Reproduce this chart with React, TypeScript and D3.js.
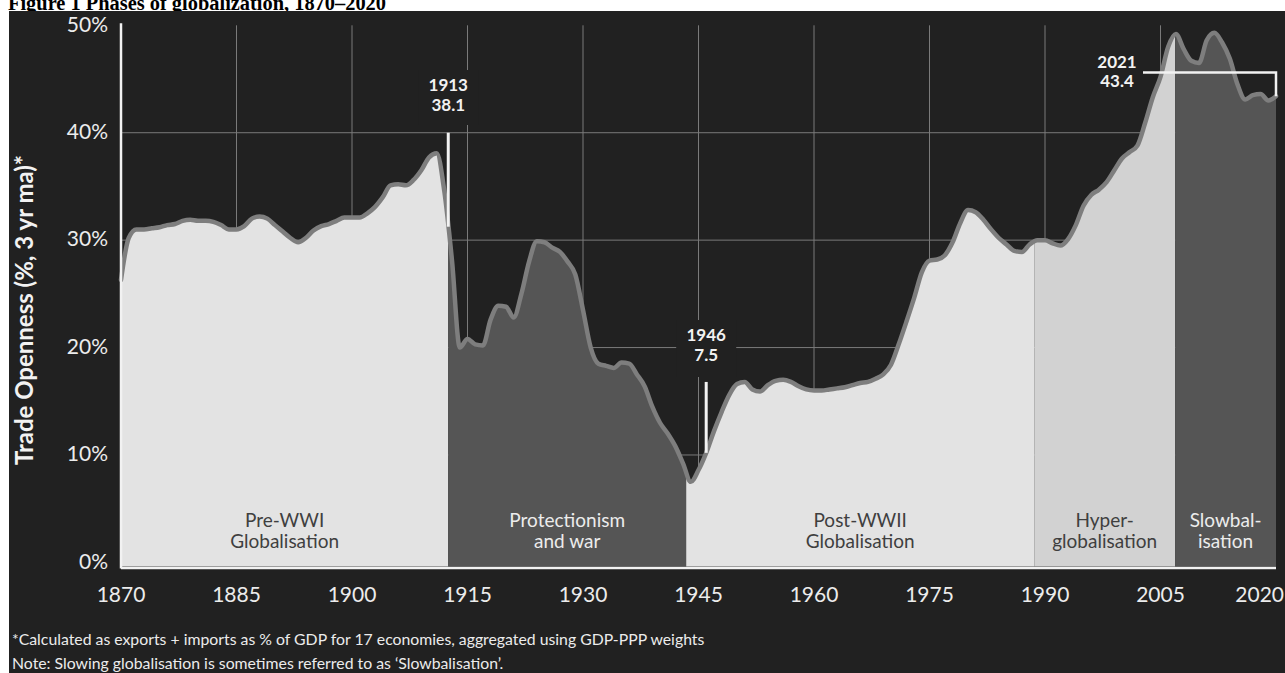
import React from "react";
import * as d3 from "d3";

const W = 1285;
const H = 673;

// Trade openness, % of GDP (3-year moving average), one value per year from 1870
const firstYear = 1870;
const openness = [
  26.3, 30.2, 31.0, 31.0, 31.1, 31.2, 31.4, 31.5, 31.8, 31.9, // 1870s
  31.8, 31.8, 31.7, 31.4, 31.0, 31.0, 31.3, 32.0, 32.2, 32.0, // 1880s
  31.4, 30.8, 30.2, 29.8, 30.2, 30.9, 31.3, 31.5, 31.8, 32.1, // 1890s
  32.1, 32.1, 32.5, 33.1, 34.0, 35.1, 35.2, 35.1, 35.6, 36.5, // 1900s
  37.7, 38.1, 34.5, 28.0, 20.0, 20.8, 20.3, 20.2, 22.6, 23.9, // 1910s
  23.8, 22.8, 25.0, 28.0, 29.9, 29.8, 29.3, 28.9, 28.0, 26.8, // 1920s
  23.5, 20.0, 18.5, 18.3, 18.1, 18.6, 18.5, 17.5, 16.4, 14.5, // 1930s
  13.0, 12.0, 10.8, 9.2, 7.5, 8.6, 10.2, 12.2, 14.0, 15.6, // 1940s
  16.6, 16.8, 16.1, 15.9, 16.5, 16.9, 17.0, 16.8, 16.4, 16.1, // 1950s
  16.0, 16.0, 16.1, 16.2, 16.3, 16.5, 16.7, 16.8, 17.1, 17.5, // 1960s
  18.4, 20.3, 22.4, 24.6, 27.0, 28.1, 28.2, 28.6, 29.8, 31.6, // 1970s
  32.8, 32.6, 31.9, 31.0, 30.2, 29.6, 29.0, 28.9, 29.6, 30.0, // 1980s
  30.0, 29.7, 29.5, 30.1, 31.4, 33.2, 34.2, 34.7, 35.4, 36.5, // 1990s
  37.6, 38.2, 38.8, 40.9, 43.3, 45.2, 48.0, 49.2, 47.8, 46.7, // 2000s
  46.5, 48.6, 49.3, 48.4, 46.9, 44.5, 43.1, 43.5, 43.6, 43.0, // 2010s
  43.4, // 2020
];

const yTicks = [0, 10, 20, 30, 40, 50];
const xTicks = [1870, 1885, 1900, 1915, 1930, 1945, 1960, 1975, 1990, 2005, 2020];

const phaseNames = [
  ["Pre-WWI", "Globalisation"],
  ["Protectionism", "and war"],
  ["Post-WWII", "Globalisation"],
  ["Hyper-", "globalisation"],
  ["Slowbal-", "isation"],
];
const phaseBounds = [1870, 1912.5, 1943.4, 1988.6, 2006.9, 2020];
const phaseTones = ["light", "dark", "light", "mid", "dark"];

// Callouts: year label, value label, and where the marker sits on the time axis
const calloutYears = ["1913", "1946", "2021"];
const calloutValues = ["38.1", "7.5", "43.4"];
const calloutAt = [1912.5, 1946, 2020];

const footnotes = [
  "*Calculated as exports + imports as % of GDP for 17 economies, aggregated using GDP-PPP weights",
  "Note: Slowing globalisation is sometimes referred to as \u2018Slowbalisation\u2019.",
];

const BG = "#212121";
const GRID = "#7a7a7a";
const INK = "#f2f2f2";
const FONT = "Lato, 'Open Sans', sans-serif";

type Pt = { year: number; v: number };

export default function App() {
  const series: Pt[] = openness.map((v, i) => ({ year: firstYear + i, v }));

  const x = d3.scaleLinear().domain([1870, 2020]).range([121, 1276]);
  const y = d3.scaleLinear().domain([0, 50]).range([562.4, 25.3]);
  const base = y(0) + 4;

  const area = d3
    .area<Pt>()
    .x((d) => x(d.year))
    .y0(base)
    .y1((d) => y(d.v))
    .curve(d3.curveMonotoneX);
  const line = d3
    .line<Pt>()
    .x((d) => x(d.year))
    .y((d) => y(d.v))
    .curve(d3.curveMonotoneX);

  const valueAt = (yr: number) => {
    const i = Math.floor(yr - firstYear);
    const t = yr - firstYear - i;
    const a = openness[Math.max(0, Math.min(openness.length - 1, i))];
    const b = openness[Math.max(0, Math.min(openness.length - 1, i + 1))];
    return a + (b - a) * t;
  };

  const toneFill: Record<string, string> = { light: "#e3e3e3", mid: "#d2d2d2", dark: "#555555" };
  const toneText: Record<string, string> = { light: "#3f3f3f", mid: "#3f3f3f", dark: "#ececec" };

  const areaPath = area(series) || "";
  const linePath = line(series) || "";

  const c1x = x(calloutAt[0]);
  const c2x = x(calloutAt[1]);
  const c3x = x(calloutAt[2]);

  return (
    <div style={{ position: "absolute", left: 0, top: 0, width: W, height: H, background: "#fff" }}>
      <svg width={W} height={H} style={{ display: "block" }}>
        <defs>
          {phaseNames.map((_, i) => (
            <clipPath id={`phase-${i}`} key={i}>
              <rect
                x={x(phaseBounds[i])}
                y={0}
                width={x(phaseBounds[i + 1]) - x(phaseBounds[i])}
                height={H}
              />
            </clipPath>
          ))}
        </defs>

        <text
          x={8}
          y={10}
          fontFamily="'Liberation Serif', 'Times New Roman', serif"
          fontWeight="bold"
          fontSize={20.4}
          fill="#000"
        >
          Figure 1 Phases of globalization, 1870–2020
        </text>

        <rect x={9} y={11} width={W - 9} height={H - 11} fill={BG} />

        {/* grid */}
        {yTicks
          .filter((t) => t > 0 && t < 50)
          .map((t) => (
            <line key={`gy${t}`} x1={x(1870)} x2={x(2020)} y1={y(t)} y2={y(t)} stroke={GRID} strokeWidth={1} />
          ))}
        {xTicks
          .filter((t) => t > 1870 && t < 2020)
          .map((t) => (
            <line key={`gx${t}`} x1={x(t)} x2={x(t)} y1={y(50)} y2={y(0)} stroke={GRID} strokeWidth={1} />
          ))}

        {/* phase areas */}
        {phaseNames.map((_, i) => (
          <path key={`a${i}`} d={areaPath} fill={toneFill[phaseTones[i]]} clipPath={`url(#phase-${i})`} />
        ))}
        <path d={linePath} fill="none" stroke="#7e7e7e" strokeWidth={4.5} strokeLinejoin="round" strokeLinecap="round" />

        {/* phase labels */}
        {phaseNames.map((lines, i) => {
          const cx = (x(phaseBounds[i]) + x(phaseBounds[i + 1])) / 2;
          return (
            <text
              key={`pl${i}`}
              x={cx}
              textAnchor="middle"
              fontFamily={FONT}
              fontSize={19}
              fill={toneText[phaseTones[i]]}
            >
              <tspan x={cx} y={527}>{lines[0]}</tspan>
              <tspan x={cx} y={548}>{lines[1]}</tspan>
            </text>
          );
        })}

        {/* axes */}
        <line x1={x(1870)} x2={x(1870)} y1={y(50) - 2} y2={base + 2} stroke={INK} strokeWidth={2.5} />
        <line x1={x(1870)} x2={x(2020)} y1={base + 1.5} y2={base + 1.5} stroke={INK} strokeWidth={2.5} />

        {yTicks.map((t) => (
          <text
            key={`yl${t}`}
            x={108}
            y={y(t) + 1}
            textAnchor="end"
            dominantBaseline="middle"
            fontFamily={FONT}
            fontSize={21}
            fill="#ececec"
          >
            {`${t}%`}
          </text>
        ))}
        {xTicks.map((t, i) => (
          <text
            key={`xl${t}`}
            x={i === xTicks.length - 1 ? W - 1 : x(t)}
            y={597}
            textAnchor={i === xTicks.length - 1 ? "end" : "middle"}
            dominantBaseline="middle"
            fontFamily={FONT}
            fontSize={21}
            fill="#ececec"
          >
            {t}
          </text>
        ))}

        <text
          transform="translate(27,310) rotate(-90)"
          textAnchor="middle"
          dominantBaseline="middle"
          fontFamily={FONT}
          fontWeight="bold"
          fontSize={24}
          fill={INK}
        >
          Trade Openness (%, 3 yr ma)*
        </text>

        {/* callout: pre-war peak */}
        <rect x={c1x - 30} y={70} width={60} height={55} fill={BG} />
        <line x1={c1x} x2={c1x} y1={y(40)} y2={y(valueAt(calloutAt[0]))} stroke={INK} strokeWidth={3} />
        <text textAnchor="middle" fontFamily={FONT} fontWeight="bold" fontSize={17} fill={INK}>
          <tspan x={c1x} y={91}>{calloutYears[0]}</tspan>
          <tspan x={c1x} y={111}>{calloutValues[0]}</tspan>
        </text>

        {/* callout: post-war trough */}
        <rect x={c2x - 30} y={320} width={60} height={57} fill={BG} />
        <line x1={c2x} x2={c2x} y1={y(16.8)} y2={y(valueAt(calloutAt[1]))} stroke={INK} strokeWidth={3} />
        <text textAnchor="middle" fontFamily={FONT} fontWeight="bold" fontSize={17} fill={INK}>
          <tspan x={c2x} y={341}>{calloutYears[1]}</tspan>
          <tspan x={c2x} y={361}>{calloutValues[1]}</tspan>
        </text>

        {/* callout: latest value */}
        <path
          d={`M${c3x - 133},${y(45.6)}H${c3x}V${y(+calloutValues[2])}`}
          fill="none"
          stroke={INK}
          strokeWidth={2.5}
        />
        <text textAnchor="middle" fontFamily={FONT} fontWeight="bold" fontSize={17} fill={INK}>
          <tspan x={c3x - 159} y={68}>{calloutYears[2]}</tspan>
          <tspan x={c3x - 159} y={87}>{calloutValues[2]}</tspan>
        </text>

        {footnotes.map((f, i) => (
          <text key={`fn${i}`} x={12} y={645 + i * 24} fontFamily={FONT} fontSize={15.8} fill="#ececec">
            {f}
          </text>
        ))}
      </svg>
    </div>
  );
}
